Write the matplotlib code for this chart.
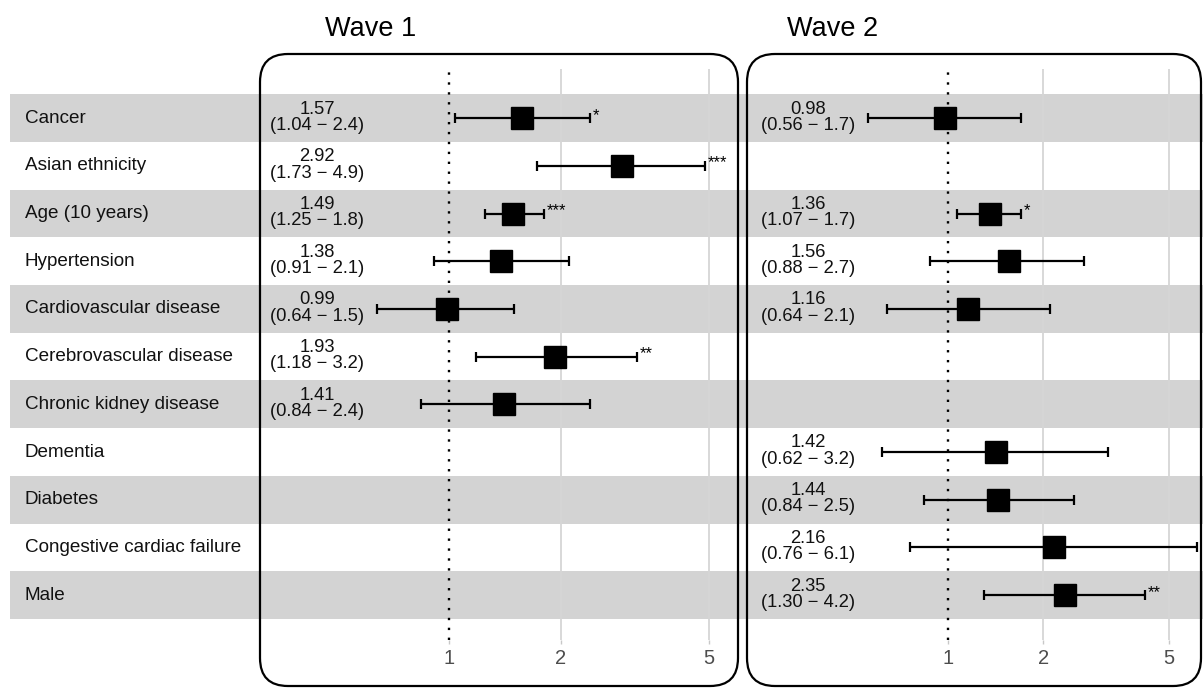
import matplotlib
matplotlib.use("Agg")
import matplotlib.pyplot as plt
from matplotlib.patches import FancyBboxPatch
from matplotlib.ticker import NullFormatter
from matplotlib.transforms import blended_transform_factory

plt.rcParams["font.family"] = ["Liberation Sans", "DejaVu Sans"]

# Row order, top to bottom
VARIABLES = [
    "Cancer", "Asian ethnicity", "Age (10 years)", "Hypertension",
    "Cardiovascular disease", "Cerebrovascular disease", "Chronic kidney disease",
    "Dementia", "Diabetes", "Congestive cardiac failure", "Male",
]

# Wave 1 odds ratios (95% CI)
W1_VARS = ["Cancer", "Asian ethnicity", "Age (10 years)", "Hypertension",
           "Cardiovascular disease", "Cerebrovascular disease", "Chronic kidney disease"]
W1_OR = [1.57, 2.92, 1.49, 1.38, 0.99, 1.93, 1.41]
W1_LO = [1.04, 1.73, 1.25, 0.91, 0.64, 1.18, 0.84]
W1_HI = [2.4, 4.9, 1.8, 2.1, 1.5, 3.2, 2.4]
W1_SIG = ["*", "***", "***", "", "", "**", ""]

# Wave 2 odds ratios (95% CI)
W2_VARS = ["Cancer", "Age (10 years)", "Hypertension", "Cardiovascular disease",
           "Dementia", "Diabetes", "Congestive cardiac failure", "Male"]
W2_OR = [0.98, 1.36, 1.56, 1.16, 1.42, 1.44, 2.16, 2.35]
W2_LO = [0.56, 1.07, 0.88, 0.64, 0.62, 0.84, 0.76, 1.30]
W2_HI = [1.7, 1.7, 2.7, 2.1, 3.2, 2.5, 6.1, 4.2]
W2_SIG = ["", "*", "", "", "", "", "", "**"]

TICKS = [1, 2, 5]
BAND = "#d3d3d3"

W, H = 1203, 688
fig = plt.figure(figsize=(W / 100, H / 100), dpi=100)

# shared vertical frame for all axes (pixels from top)
top_px, bot_px = 69, 640
y0 = 1 - bot_px / H
h = (bot_px - top_px) / H
ylim = (10.94, -1.03)

# background: alternating bands + row labels
bg = fig.add_axes([0, y0, 1, h], zorder=-1)
bg.set_xlim(0, 1)
bg.set_ylim(*ylim)
bg.axis("off")
for i, name in enumerate(VARIABLES):
    if i % 2 == 0:
        bg.axhspan(i - 0.5, i + 0.5, xmin=10 / W, xmax=1, color=BAND, lw=0)
    bg.text(25 / W, i, name, va="center", ha="left", fontsize=13.6, color="#111111")


def panel(left_px, right_px, xlim, text_x, names, ors, los, his, sigs):
    ax = fig.add_axes([left_px / W, y0, (right_px - left_px) / W, h], zorder=1)
    ax.patch.set_alpha(0)
    ax.set_xscale("log")
    ax.set_xlim(*xlim)
    ax.set_ylim(*ylim)
    for s in ax.spines.values():
        s.set_visible(False)

    for g in (2, 5):
        ax.axvline(g, color="#d6d6d6", lw=1.3, zorder=0)
    ax.axvline(1, color="black", lw=1.7, ls=(0, (1, 3.2)), zorder=1)

    rows = [VARIABLES.index(n) for n in names]
    xerr = [[o - l for o, l in zip(ors, los)], [hi - o for o, hi in zip(ors, his)]]
    ax.errorbar(ors, rows, xerr=xerr, fmt="s", ms=15.5, color="black",
                ecolor="black", elinewidth=1.6, capsize=3.3, capthick=1.6, zorder=3)

    trans = blended_transform_factory(ax.transAxes, ax.transData)
    for r, o, l, hi, s in zip(rows, ors, los, his, sigs):
        ax.text(text_x, r - 0.02, f"{o:.2f}\n({l:.2f} \u2212 {hi:.1f})", transform=trans,
                ha="center", va="center", multialignment="center",
                linespacing=0.95, fontsize=13.2, color="#111111")
        if s:
            ax.annotate(s, (hi, r), xytext=(2, 2), textcoords="offset points",
                        ha="left", va="center", fontsize=12)

    ax.set_xticks(TICKS)
    ax.set_xticklabels([str(t) for t in TICKS])
    ax.xaxis.set_minor_formatter(NullFormatter())
    ax.tick_params(axis="x", which="minor", length=0)
    ax.tick_params(axis="x", which="major", length=3, width=1, color="#c8c8c8",
                   labelcolor="#4d4d4d", labelsize=14.5, pad=3.5)
    ax.set_yticks([])

    box = FancyBboxPatch((left_px / 100, 0.02), (right_px - left_px) / 100, 6.32,
                         boxstyle="round,pad=0,rounding_size=0.28",
                         transform=fig.dpi_scale_trans, fill=False,
                         ec="black", lw=1.6, zorder=0.5)
    fig.add_artist(box)
    return ax


panel(260, 738, (0.31, 6.0), 0.12, W1_VARS, W1_OR, W1_LO, W1_HI, W1_SIG)
panel(747, 1201, (0.232, 6.3), 0.135, W2_VARS, W2_OR, W2_LO, W2_HI, W2_SIG)

fig.text(325 / W, 1 - 29 / H, "Wave 1", fontsize=19.5, ha="left", va="center")
fig.text(787 / W, 1 - 29 / H, "Wave 2", fontsize=19.5, ha="left", va="center")

fig.savefig("out.png", dpi=100)
